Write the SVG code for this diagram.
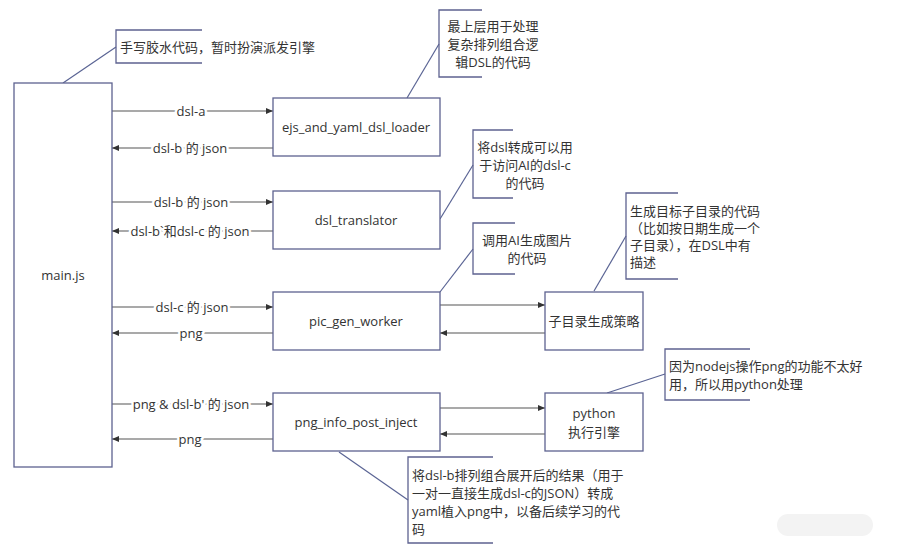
<svg xmlns="http://www.w3.org/2000/svg" width="897" height="549" viewBox="0 0 897 549">
<style>
.box{fill:#fff;stroke:#5d6290;stroke-width:1.3}
.ann{fill:none;stroke:#5d6290;stroke-width:1.3}
.lead{fill:none;stroke:#5a6494;stroke-width:1.2}
.flow{fill:none;stroke:#555;stroke-width:1.1}
text{font-family:"Open Sans","Noto Sans CJK SC",sans-serif;font-size:13px;fill:#333}
.c{text-anchor:middle}
.lbl{text-anchor:middle;stroke:#fff;stroke-width:5;paint-order:stroke;stroke-linejoin:round}
</style>
<defs>
<marker id="ah" markerWidth="8" markerHeight="8" refX="7" refY="4" orient="auto" markerUnits="userSpaceOnUse">
<path d="M0,1 L7,4 L0,7 Z" fill="#333"/>
</marker>
</defs>
<rect width="897" height="549" fill="#fff"/>

<g id="connectors">
<path class="flow" d="M112,111 H273" marker-end="url(#ah)"/>
<path class="flow" d="M273,148 H112" marker-end="url(#ah)"/>
<path class="flow" d="M112,202 H273" marker-end="url(#ah)"/>
<path class="flow" d="M273,231 H112" marker-end="url(#ah)"/>
<path class="flow" d="M112,307 H273" marker-end="url(#ah)"/>
<path class="flow" d="M273,333 H112" marker-end="url(#ah)"/>
<path class="flow" d="M112,404 H273" marker-end="url(#ah)"/>
<path class="flow" d="M273,439 H112" marker-end="url(#ah)"/>
<path class="flow" d="M440,305 H545" marker-end="url(#ah)"/>
<path class="flow" d="M545,333 H440" marker-end="url(#ah)"/>
<path class="flow" d="M440,408 H545" marker-end="url(#ah)"/>
<path class="flow" d="M545,434 H440" marker-end="url(#ah)"/>
<text class="lbl" x="191" y="115.5">dsl-a</text>
<text class="lbl" x="190" y="152.5">dsl-b 的 json</text>
<text class="lbl" x="191" y="206.5">dsl-b 的 json</text>
<text class="lbl" x="190" y="235.5">dsl-b`和dsl-c 的 json</text>
<text class="lbl" x="192" y="311.5">dsl-c 的 json</text>
<text class="lbl" x="191" y="337.5">png</text>
<text class="lbl" x="191" y="408.5">png &amp; dsl-b' 的 json</text>
<text class="lbl" x="190" y="443.5">png</text>
<path class="lead" d="M63,83 L116,47"/>
<path class="lead" d="M407,98 L439,44"/>
<path class="lead" d="M440,219 L473,165"/>
<path class="lead" d="M440,292 L473,249"/>
<path class="lead" d="M594,291 L626,236"/>
<path class="lead" d="M607,393 L665,374"/>
<path class="lead" d="M339,452 L408,500"/>
</g>

<g id="main">
<rect class="box" x="14" y="83" width="98" height="384"/>
<text class="c" x="63" y="280">main.js</text>
</g>

<g id="loader">
<rect class="box" x="273" y="98" width="167" height="58"/>
<text class="c" x="356" y="132">ejs_and_yaml_dsl_loader</text>
</g>

<g id="translator">
<rect class="box" x="273" y="191" width="167" height="58"/>
<text class="c" x="356" y="225">dsl_translator</text>
</g>

<g id="picgen">
<rect class="box" x="273" y="292" width="167" height="58"/>
<text class="c" x="356" y="326">pic_gen_worker</text>
</g>

<g id="inject">
<rect class="box" x="273" y="393" width="167" height="58"/>
<text class="c" x="356" y="427">png_info_post_inject</text>
</g>

<g id="subdir">
<rect class="box" x="545" y="292" width="98" height="58"/>
<text class="c" x="594" y="326">子目录生成策略</text>
</g>

<g id="python">
<rect class="box" x="545" y="393" width="98" height="58"/>
<text class="c" x="594" y="418">python</text>
<text class="c" x="594" y="437">执行引擎</text>
</g>

<g id="note-main">
<path class="ann" d="M202,30 H116 V63 H202"/>
<text x="120" y="52">手写胶水代码，暂时扮演派发引擎</text>
</g>

<g id="note-loader">
<path class="ann" d="M482,10 H439 V77 H482"/>
<text class="c" x="493" y="31">最上层用于处理</text>
<text class="c" x="493" y="49">复杂排列组合逻</text>
<text class="c" x="493" y="67">辑DSL的代码</text>
</g>

<g id="note-translator">
<path class="ann" d="M513,130 H473 V198 H513"/>
<text class="c" x="525" y="152">将dsl转成可以用</text>
<text class="c" x="525" y="170">于访问AI的dsl-c</text>
<text class="c" x="525" y="188">的代码</text>
</g>

<g id="note-picgen">
<path class="ann" d="M515,223 H473 V274 H515"/>
<text class="c" x="527" y="245">调用AI生成图片</text>
<text class="c" x="527" y="263">的代码</text>
</g>

<g id="note-subdir">
<path class="ann" d="M678,193 H626 V279 H678"/>
<text x="630" y="216">生成目标子目录的代码</text>
<text x="630" y="233">（比如按日期生成一个</text>
<text x="630" y="250">子目录），在DSL中有</text>
<text x="630" y="267">描述</text>
</g>

<g id="note-python">
<path class="ann" d="M750,349 H665 V400 H750"/>
<text x="669" y="371">因为nodejs操作png的功能不太好</text>
<text x="669" y="389">用，所以用python处理</text>
</g>

<g id="note-inject">
<path class="ann" d="M493,457 H408 V543 H493"/>
<text x="412" y="480">将dsl-b排列组合展开后的结果（用于</text>
<text x="412" y="498">一对一直接生成dsl-c的JSON）转成</text>
<text x="412" y="516">yaml植入png中，以备后续学习的代</text>
<text x="412" y="534">码</text>
</g>

<rect x="777" y="514" width="96" height="22" rx="11" fill="#f3f3f3"/>
</svg>
